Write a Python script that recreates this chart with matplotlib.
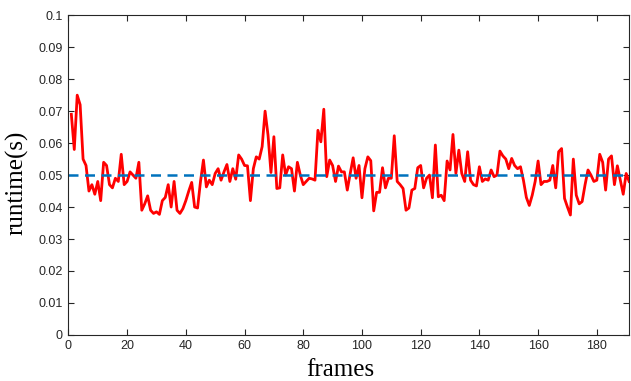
import matplotlib
matplotlib.use("Agg")
import matplotlib.pyplot as plt
import numpy as np

runtime = [
    0.069, 0.058, 0.075, 0.072, 0.055, 0.053, 0.045, 0.047, 0.044, 0.048,
    0.042, 0.054, 0.053, 0.047, 0.046, 0.049, 0.048, 0.0565, 0.047, 0.048,
    0.051, 0.050, 0.049, 0.054, 0.039, 0.041, 0.0435, 0.039, 0.038, 0.0385,
    0.0377, 0.042, 0.043, 0.047, 0.040, 0.048, 0.039, 0.038, 0.0395, 0.042,
    0.045, 0.0477, 0.040, 0.0397, 0.048, 0.0547, 0.0463, 0.0484, 0.047, 0.0505,
    0.052, 0.0484, 0.051, 0.0533, 0.048, 0.052, 0.0487, 0.0563, 0.055, 0.053,
    0.0529, 0.042, 0.052, 0.0557, 0.055, 0.0589, 0.070, 0.0625, 0.0508, 0.062,
    0.0458, 0.046, 0.0563, 0.050, 0.0526, 0.052, 0.045, 0.054, 0.050, 0.047,
    0.048, 0.049, 0.0488, 0.0484, 0.064, 0.0604, 0.0706, 0.0495, 0.0547, 0.053,
    0.048, 0.0528, 0.051, 0.051, 0.0453, 0.0505, 0.0554, 0.049, 0.053, 0.0429,
    0.052, 0.0557, 0.0545, 0.0388, 0.0446, 0.0446, 0.0523, 0.046, 0.049, 0.049,
    0.0623, 0.048, 0.047, 0.0458, 0.039, 0.0397, 0.0453, 0.0458, 0.0523, 0.053,
    0.046, 0.049, 0.050, 0.0429, 0.0594, 0.0432, 0.0437, 0.042, 0.0544, 0.0516,
    0.0627, 0.0505, 0.0578, 0.0505, 0.048, 0.0573, 0.0484, 0.047, 0.0466, 0.0526,
    0.048, 0.0488, 0.0484, 0.0516, 0.0495, 0.050, 0.0575, 0.056, 0.055, 0.052,
    0.0552, 0.053, 0.052, 0.0526, 0.0484, 0.043, 0.0405, 0.0437, 0.048, 0.0544,
    0.047, 0.048, 0.048, 0.0484, 0.053, 0.046, 0.0573, 0.0583, 0.0427, 0.040,
    0.0375, 0.055, 0.0437, 0.041, 0.0417, 0.047, 0.0516, 0.050, 0.048, 0.0484,
    0.0565, 0.054, 0.0453, 0.055, 0.056, 0.047, 0.0529, 0.0484, 0.044, 0.0505,
    0.048,
]
frames = np.arange(1, len(runtime) + 1)
target = 0.05
xticks = [0, 20, 40, 60, 80, 100, 120, 140, 160, 180]
yticks = [0, 0.01, 0.02, 0.03, 0.04, 0.05, 0.06, 0.07, 0.08, 0.09, 0.1]
ytick_labels = ["0", "0.01", "0.02", "0.03", "0.04", "0.05", "0.06", "0.07", "0.08", "0.09", "0.1"]

fig = plt.figure(figsize=(6.31, 3.81), dpi=100)
ax = fig.add_axes([0.1084, 0.121, 0.8886, 0.839])

ax.plot(frames, runtime, color="#ff0000", linewidth=2.0)
ax.axhline(target, color="#0072BD", linewidth=1.8, linestyle=(0, (4, 2.6)))

ax.set_xlim(0, 191)
ax.set_ylim(0, 0.1)
ax.set_xticks(xticks)
ax.set_xticklabels([str(t) for t in xticks], fontfamily="Liberation Sans", fontsize=9, color="#262626")
ax.set_yticks(yticks)
ax.set_yticklabels(ytick_labels, fontfamily="Liberation Sans", fontsize=9, color="#262626")
ax.tick_params(direction="in", length=4.5, width=0.8, top=True, right=True, color="#262626", pad=4)
for s in ax.spines.values():
    s.set_color("#262626")
    s.set_linewidth(0.8)

ax.set_xlabel("frames", fontfamily="Liberation Serif", fontsize=18, color="#000000")
ax.set_ylabel("runtime(s)", fontfamily="Liberation Serif", fontsize=18, color="#000000")
ax.xaxis.set_label_coords(0.485, -0.075)
ax.yaxis.set_label_coords(-0.072, 0.475)

fig.savefig("out.png", dpi=100)
